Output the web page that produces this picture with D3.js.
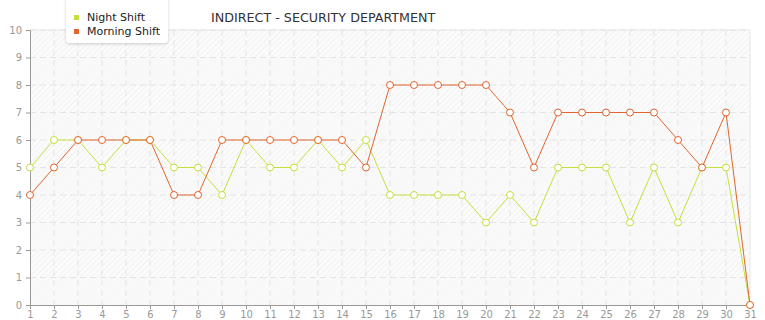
<!DOCTYPE html>
<html>
<head>
<meta charset="utf-8">
<script src="https://cdn.jsdelivr.net/npm/d3@7"></script>
<style>
  body { margin: 0; background: #fff; }
  svg text { font-family: "DejaVu Sans", Verdana, sans-serif; }
</style>
</head>
<body>
<script>
var days = d3.range(1, 32);
var night = [5, 6, 6, 5, 6, 6, 5, 5, 4, 6, 5, 5, 6, 5, 6, 4, 4, 4, 4, 3, 4, 3, 5, 5, 5, 3, 5, 3, 5, 5, 0];
var morning = [4, 5, 6, 6, 6, 6, 4, 4, 6, 6, 6, 6, 6, 6, 5, 8, 8, 8, 8, 8, 7, 5, 7, 7, 7, 7, 7, 6, 5, 7, 0];
var yTicks = d3.range(0, 11);
var seriesNames = ["Night Shift", "Morning Shift"];
var colors = ["#c5e03c", "#e0652e"];

var width = 765, height = 320;
var x = d3.scaleLinear().domain([1, 31]).range([30, 750]);
var y = d3.scaleLinear().domain([0, 10]).range([305, 30]);

var svg = d3.select("body").append("svg")
    .attr("width", width)
    .attr("height", height);

var defs = svg.append("defs");
var hatch = defs.append("pattern")
    .attr("id", "hatch")
    .attr("width", 4).attr("height", 4)
    .attr("patternUnits", "userSpaceOnUse")
    .attr("patternTransform", "rotate(45)");
hatch.append("rect").attr("width", 4).attr("height", 4).attr("fill", "#fbfbfb");
hatch.append("line").attr("x1", 0).attr("y1", 0).attr("x2", 0).attr("y2", 4)
    .attr("stroke", "#ececec").attr("stroke-width", 1.2);

var shadow = defs.append("filter").attr("id", "shadow")
    .attr("x", "-20%").attr("y", "-40%").attr("width", "140%").attr("height", "180%");
shadow.append("feDropShadow").attr("dx", 0).attr("dy", 1).attr("stdDeviation", 1.5)
    .attr("flood-color", "#000").attr("flood-opacity", 0.18);

// plot background
svg.append("rect")
    .attr("x", x(1)).attr("y", y(10))
    .attr("width", x(31) - x(1)).attr("height", y(0) - y(10))
    .attr("fill", "url(#hatch)");

// alternating bands
svg.selectAll(".band").data(yTicks.filter(function (d) { return d % 2 === 0 && d < 10; }))
    .enter().append("rect")
    .attr("x", x(1))
    .attr("y", function (d) { return y(d + 1); })
    .attr("width", x(31) - x(1))
    .attr("height", function (d) { return y(d) - y(d + 1); })
    .attr("fill", "#f8f8f8").attr("opacity", 0.75);

// grid
svg.selectAll(".hgrid").data(yTicks.slice(1))
    .enter().append("line")
    .attr("x1", x(1)).attr("x2", x(31))
    .attr("y1", function (d) { return y(d); })
    .attr("y2", function (d) { return y(d); })
    .attr("stroke", "#e4e4e4").attr("stroke-dasharray", "6,4");
svg.selectAll(".vgrid").data(days.slice(1, 30))
    .enter().append("line")
    .attr("y1", y(10)).attr("y2", y(0))
    .attr("x1", function (d) { return x(d); })
    .attr("x2", function (d) { return x(d); })
    .attr("stroke", "#e4e4e4").attr("stroke-dasharray", "6,4");

// borders
svg.append("line").attr("x1", x(31)).attr("x2", x(31)).attr("y1", y(10)).attr("y2", y(0))
    .attr("stroke", "#e6e6e6");
svg.append("line").attr("x1", x(1)).attr("x2", x(31)).attr("y1", y(10)).attr("y2", y(10))
    .attr("stroke", "#e6e6e6");

// axes
var yAxis = svg.append("g")
    .attr("transform", "translate(" + x(1) + ",0)")
    .call(d3.axisLeft(y).tickValues(yTicks).tickSize(4).tickPadding(4).tickFormat(d3.format("d")));
var xAxis = svg.append("g")
    .attr("transform", "translate(0," + y(0) + ")")
    .call(d3.axisBottom(x).tickValues(days).tickSize(4).tickPadding(2).tickFormat(d3.format("d")));
[xAxis, yAxis].forEach(function (g) {
    g.select(".domain").attr("stroke", "#999");
    g.selectAll(".tick line").attr("stroke", "#999");
    g.selectAll(".tick text").attr("fill", "#999").style("font-size", "10px");
});

// series
var line = d3.line()
    .x(function (d, i) { return x(days[i]); })
    .y(function (d) { return y(d); });

[night, morning].forEach(function (vals, s) {
    var g = svg.append("g");
    g.append("path")
        .attr("d", line(vals))
        .attr("fill", "none")
        .attr("stroke", colors[s])
        .attr("stroke-width", 1);
    g.selectAll("circle").data(vals)
        .enter().append("circle")
        .attr("cx", function (d, i) { return x(days[i]); })
        .attr("cy", function (d) { return y(d); })
        .attr("r", 3.5)
        .attr("fill", "#fff")
        .attr("stroke", colors[s])
        .attr("stroke-width", 1);
});

// title
svg.append("text")
    .attr("x", 211).attr("y", 22)
    .attr("fill", "#333")
    .style("font-size", "12.7px")
    .text("INDIRECT - SECURITY DEPARTMENT");

// legend
var legend = svg.append("g");
legend.append("rect")
    .attr("x", 66).attr("y", -6)
    .attr("width", 102).attr("height", 49)
    .attr("rx", 4)
    .attr("fill", "#fff")
    .attr("filter", "url(#shadow)");
seriesNames.forEach(function (name, i) {
    legend.append("rect")
        .attr("x", 74).attr("y", 15 + i * 14)
        .attr("width", 5).attr("height", 5)
        .attr("fill", colors[i]);
    legend.append("text")
        .attr("x", 87).attr("y", 21 + i * 14)
        .attr("fill", "#222")
        .style("font-size", "11px")
        .text(name);
});
</script>
</body>
</html>
